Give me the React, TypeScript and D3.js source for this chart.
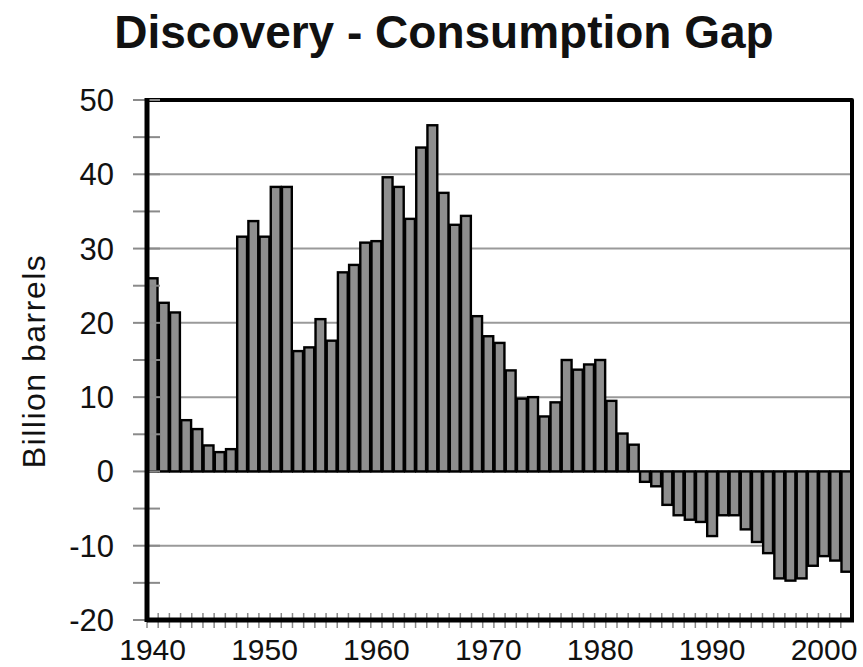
import { useEffect, useRef } from "react";
import * as d3 from "d3";

const years = d3.range(1940, 2003);

// discovery minus consumption, billion barrels
const gapValues = [
  26.0, 22.7, 21.4, 6.9, 5.7, 3.5, 2.6, 3.0, 31.6, 33.7,
  31.6, 38.3, 38.3, 16.2, 16.7, 20.5, 17.6, 26.8, 27.8, 30.8,
  31.0, 39.6, 38.3, 34.0, 43.6, 46.6, 37.5, 33.2, 34.4, 20.9,
  18.2, 17.3, 13.6, 9.8, 10.0, 7.4, 9.3, 15.0, 13.7, 14.4,
  15.0, 9.5, 5.1, 3.6, -1.4, -2.0, -4.5, -5.9, -6.5, -6.8,
  -8.7, -5.9, -5.9, -7.8, -9.5, -11.0, -14.4, -14.7, -14.4, -12.7,
  -11.4, -12.0, -13.5,
];

const yTicks = [50, 40, 30, 20, 10, 0, -10, -20];
const xTickYears = [1940, 1950, 1960, 1970, 1980, 1990, 2000];

const TITLE = "Discovery - Consumption Gap";
const Y_TITLE = "Billion barrels";

const App = () => {
  const svgRef = useRef(null);

  useEffect(() => {
    const svg = d3.select(svgRef.current);
    svg.selectAll("*").remove();
    const width = 863;
    const height = 667;
    const plot = { left: 147, right: 852, top: 100, bottom: 620 };
    const font = "Liberation Sans, Arial, sans-serif";

    svg.attr("width", width).attr("height", height);
    svg.append("rect").attr("width", width).attr("height", height).attr("fill", "white");

    const x = d3
      .scaleBand<number>()
      .domain(years)
      .range([plot.left, plot.right])
      .paddingInner(0.12)
      .paddingOuter(0.06);
    const step = x.step();
    const y = d3.scaleLinear().domain([-20, 50]).range([plot.bottom, plot.top]);

    // gridlines
    svg
      .append("g")
      .selectAll("line")
      .data(yTicks.filter((t) => t !== 50 && t !== -20))
      .join("line")
      .attr("x1", plot.left)
      .attr("x2", plot.right)
      .attr("y1", (d) => y(d))
      .attr("y2", (d) => y(d))
      .attr("stroke", "#9a9a9a")
      .attr("stroke-width", 2);

    // bars
    const data = years.map((yr, i) => ({ year: yr, value: gapValues[i] }));
    svg
      .append("g")
      .selectAll("rect")
      .data(data)
      .join("rect")
      .attr("x", (d) => x(d.year)!)
      .attr("y", (d) => y(Math.max(0, d.value)))
      .attr("width", x.bandwidth())
      .attr("height", (d) => Math.abs(y(d.value) - y(0)))
      .attr("fill", "#8e8e8e")
      .attr("stroke", "#000")
      .attr("stroke-width", 2.4);

    // frame: top + right
    svg
      .append("path")
      .attr("d", `M${plot.left},${plot.top}H${plot.right}V${plot.bottom}`)
      .attr("fill", "none")
      .attr("stroke", "#000")
      .attr("stroke-width", 4)
      .attr("stroke-linejoin", "round");

    // y ticks every 5
    svg
      .append("g")
      .selectAll("line")
      .data(d3.range(-20, 51, 5))
      .join("line")
      .attr("x1", plot.left - 14)
      .attr("x2", plot.left + 13)
      .attr("y1", (d) => y(d))
      .attr("y2", (d) => y(d))
      .attr("stroke", "#8a8a8a")
      .attr("stroke-width", 2);

    // x ticks at every year boundary
    svg
      .append("g")
      .selectAll("line")
      .data(years)
      .join("line")
      .attr("x1", (d) => x(d)! - (step * x.paddingInner()) / 2)
      .attr("x2", (d) => x(d)! - (step * x.paddingInner()) / 2)
      .attr("y1", plot.bottom - 7)
      .attr("y2", plot.bottom + 8)
      .attr("stroke", "#8a8a8a")
      .attr("stroke-width", 1.5);

    svg
      .append("line")
      .attr("x1", plot.left)
      .attr("x2", plot.left)
      .attr("y1", plot.top - 2)
      .attr("y2", plot.bottom + 2)
      .attr("stroke", "#000")
      .attr("stroke-width", 5);
    svg
      .append("line")
      .attr("x1", plot.left)
      .attr("x2", plot.right + 2)
      .attr("y1", plot.bottom)
      .attr("y2", plot.bottom)
      .attr("stroke", "#000")
      .attr("stroke-width", 5);

    // y labels
    svg
      .append("g")
      .selectAll("text")
      .data(yTicks)
      .join("text")
      .attr("x", 114)
      .attr("y", (d) => y(d) + 11)
      .attr("text-anchor", "end")
      .attr("font-family", font)
      .attr("font-size", 31)
      .attr("fill", "#111")
      .text((d) => d);

    // x labels
    svg
      .append("g")
      .selectAll("text")
      .data(xTickYears)
      .join("text")
      .attr("x", (d) => x(d)! + x.bandwidth() / 2)
      .attr("y", 660)
      .attr("text-anchor", "middle")
      .attr("font-family", font)
      .attr("font-size", 30)
      .attr("fill", "#111")
      .text((d) => d);

    svg
      .append("text")
      .attr("transform", "translate(45,361) rotate(-90)")
      .attr("text-anchor", "middle")
      .attr("font-family", font)
      .attr("font-size", 32)
      .attr("letter-spacing", 1.5)
      .attr("fill", "#111")
      .text(Y_TITLE);

    svg
      .append("text")
      .attr("x", 444)
      .attr("y", 48)
      .attr("text-anchor", "middle")
      .attr("font-family", font)
      .attr("font-size", 46)
      .attr("font-weight", "bold")
      .attr("fill", "#111")
      .text(TITLE);
  }, []);

  return (
    <svg
      ref={svgRef}
      style={{ position: "absolute", left: 0, top: 0, display: "block" }}
    ></svg>
  );
};

export default App;
